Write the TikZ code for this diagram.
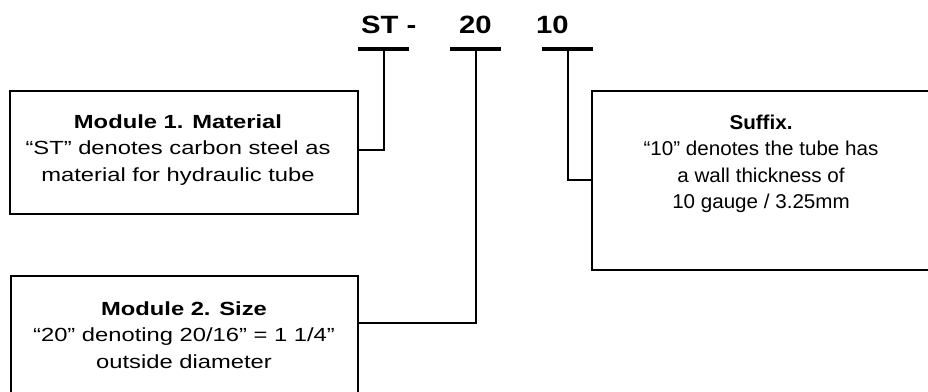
\documentclass[tikz,border=0pt]{standalone}
\usepackage{fontspec}
\setmainfont{Liberation Sans}
\usepackage{graphicx}
\begin{document}
\begin{tikzpicture}[x=1pt,y=-1pt,
  box/.style={draw=black, line width=2pt, rectangle, inner sep=0pt, fill=none},
  bar/.style={fill=black, draw=none, rectangle, inner sep=0pt, minimum width=51pt, minimum height=4pt},
  conn/.style={draw=black, line width=2pt},
  code/.style={anchor=base west, inner sep=0pt, font=\fontsize{25}{30}\selectfont\bfseries},
  txt/.style={anchor=base, inner sep=0pt, font=\fontsize{19}{26.5}\selectfont},
  txtb/.style={anchor=base, inner sep=0pt, font=\fontsize{20}{26.5}\selectfont}]
\useasboundingbox (0,0) rectangle (928,391);
\clip (0,0) rectangle (928,391);
% code labels
\node[code] (l1) at (361,33) {\scalebox{1.17}[1]{ST -}};
\node[code] (l2) at (459,33) {\scalebox{1.17}[1]{20}};
\node[code] (l3) at (536,33) {\scalebox{1.17}[1]{10}};
% bars
\node[bar] (b1) at (383.5,49) {};
\node[bar] (b2) at (475.5,49) {};
\node[bar] (b3) at (567.5,49) {};
% boxes
\node[box, minimum width=348pt, minimum height=123pt] (box1) at (184,152.5) {};
\node[box, minimum width=340pt, minimum height=179pt] (box3) at (762,180.5) {};
\node[box, minimum width=347pt, minimum height=144pt] (box2) at (184.5,348) {};
% texts
\node[txt] (t1) at (178,128) {\scalebox{1.25}[1]{\begin{tabular}[t]{@{}c@{}}\textbf{Module 1. Material}\\“ST” denotes carbon steel as\\material for hydraulic tube\end{tabular}}};
\node[txtb] (t3) at (761,129) {\scalebox{1.03}[1]{\begin{tabular}[t]{@{}c@{}}\textbf{Suffix.}\\“10” denotes the tube has\\a wall thickness of\\10 gauge / 3.25mm\end{tabular}}};
\node[txt] (t2) at (184,315) {\scalebox{1.25}[1]{\begin{tabular}[t]{@{}c@{}}\textbf{Module 2. Size}\\“20” denoting 20/16” = 1 1/4”\\outside diameter\end{tabular}}};
% connectors
\coordinate (y1) at (0,150);
\coordinate (y2) at (0,323);
\coordinate (y3) at (0,180);
\draw[conn] (b1.south) |- (box1.east |- y1);
\draw[conn] (b2.south) |- (box2.east |- y2);
\draw[conn] (b3.south) |- (box3.west |- y3);
\end{tikzpicture}
\end{document}
